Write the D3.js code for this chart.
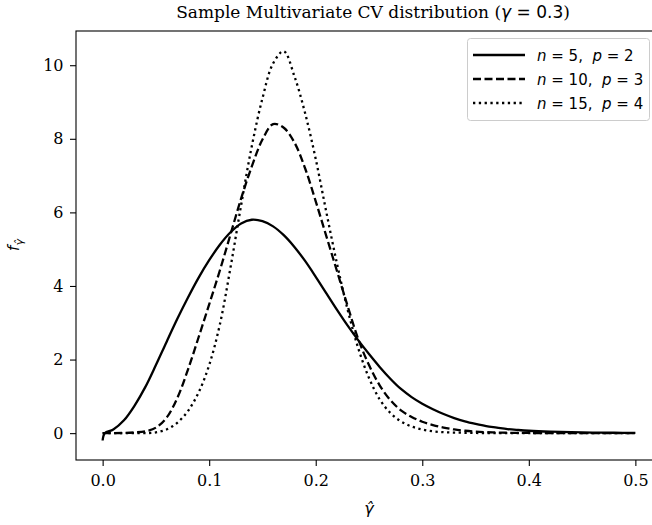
<!DOCTYPE html>
<html>
<head>
<meta charset="utf-8">
<script src="https://cdn.jsdelivr.net/npm/d3@7"></script>
<style>
  body { margin: 0; background: #fff; }
  svg { display: block; overflow: hidden; }
  .legend-text { white-space: pre; }
</style>
</head>
<body>
<div id="chart"></div>
<script>
// values
var gammaHat = [0, 0.002, 0.01, 0.02, 0.03, 0.04, 0.05, 0.06, 0.07, 0.08, 0.09,
  0.10, 0.11, 0.12, 0.13, 0.14, 0.15, 0.16, 0.17, 0.18, 0.19,
  0.20, 0.21, 0.22, 0.23, 0.24, 0.25, 0.26, 0.27, 0.28, 0.29,
  0.30, 0.31, 0.32, 0.33, 0.34, 0.35, 0.36, 0.37, 0.38, 0.39,
  0.40, 0.42, 0.44, 0.46, 0.48, 0.50];

var densN5 = [-0.2, 0.0, 0.1, 0.35, 0.75, 1.25, 1.85, 2.48, 3.1, 3.68, 4.22,
  4.7, 5.12, 5.46, 5.7, 5.8, 5.76, 5.62, 5.38, 5.06, 4.68,
  4.25, 3.8, 3.35, 2.92, 2.52, 2.15, 1.8, 1.48, 1.2, 0.98,
  0.8, 0.65, 0.52, 0.41, 0.32, 0.25, 0.19, 0.15, 0.11, 0.085,
  0.065, 0.04, 0.025, 0.015, 0.01, 0.005];

var densN10 = [0, 0, 0, 0.005, 0.02, 0.05, 0.15, 0.42, 0.95, 1.72, 2.6,
  3.5, 4.42, 5.4, 6.38, 7.25, 7.98, 8.4, 8.3, 7.9, 7.2,
  6.3, 5.35, 4.4, 3.45, 2.55, 1.85, 1.3, 0.9, 0.62, 0.44,
  0.31, 0.22, 0.15, 0.1, 0.065, 0.04, 0.025, 0.018, 0.01, 0.007,
  0.005, 0.002, 0, 0, 0, 0];

var densN15 = [0, 0, 0, 0, 0, 0, 0.02, 0.1, 0.28, 0.6, 1.1,
  1.85, 2.95, 4.5, 6.2, 7.8, 9.1, 10.05, 10.38, 9.7, 8.7,
  7.45, 6.0, 4.6, 3.35, 2.3, 1.5, 0.92, 0.55, 0.32, 0.18,
  0.1, 0.05, 0.025, 0.015, 0.01, 0.005, 0, 0, 0, 0,
  0, 0, 0, 0, 0, 0];

var seriesLabels = [["5", "2"], ["10", "3"], ["15", "4"]];
var xTicks = [0, 0.1, 0.2, 0.3, 0.4, 0.5];
var yTicks = [0, 2, 4, 6, 8, 10];

var svgWidth = 652;
var svgHeight = 525;
var margin = { top: 31, left: 76 };
var width = 586;   // right spine falls just outside the picture
var height = 429;

var svg = d3.select("#chart")
  .append("svg")
  .attr("width", svgWidth)
  .attr("height", svgHeight);

var chartGroup = svg.append("g")
  .attr("transform", `translate(${margin.left}, ${margin.top})`);

var xScale = d3.scaleLinear().domain([-0.025, 0.525]).range([0, width]);
var yScale = d3.scaleLinear().domain([-0.73, 10.93]).range([height, 0]);

// axes
var bottomAxis = d3.axisBottom(xScale).tickValues(xTicks).tickFormat(d3.format(".1f"))
  .tickSizeInner(6).tickSizeOuter(0).tickPadding(9);
var leftAxis = d3.axisLeft(yScale).tickValues(yTicks).tickFormat(d3.format("d"))
  .tickSizeInner(6).tickSizeOuter(0).tickPadding(6.5);

var gx = chartGroup.append("g")
  .attr("transform", `translate(0, ${height})`)
  .call(bottomAxis);
var gy = chartGroup.append("g").call(leftAxis);

[gx, gy].forEach(function(g) {
  g.select(".domain").remove();
  g.selectAll("line").attr("stroke", "#000").attr("stroke-width", 1.1);
  g.selectAll("text")
    .attr("font-family", "DejaVu Serif")
    .attr("font-size", "16px")
    .attr("fill", "#000");
});

// spines
chartGroup.append("rect")
  .attr("x", 0).attr("y", 0)
  .attr("width", width).attr("height", height)
  .attr("fill", "none")
  .attr("stroke", "#000")
  .attr("stroke-width", 1.1);

// curves
var series = [
  { values: densN5, dash: null },
  { values: densN10, dash: "8,3.5" },
  { values: densN15, dash: "2.3,3.5" }
];

var line = d3.line()
  .x(function(d) { return xScale(d[0]); })
  .y(function(d) { return yScale(d[1]); })
  .curve(d3.curveCatmullRom.alpha(0.5));

series.forEach(function(s) {
  chartGroup.append("path")
    .datum(gammaHat.map(function(g, i) { return [g, s.values[i]]; }))
    .attr("d", line)
    .attr("fill", "none")
    .attr("stroke", "#000")
    .attr("stroke-width", 2.3)
    .attr("stroke-dasharray", s.dash);
});

// title
var title = svg.append("text")
  .attr("x", 373)
  .attr("y", 18)
  .attr("text-anchor", "middle")
  .attr("font-family", "DejaVu Serif")
  .attr("font-size", "17px")
  .attr("fill", "#000");
title.append("tspan").text("Sample Multivariate CV distribution (");
title.append("tspan").attr("font-family", "DejaVu Sans").attr("font-style", "italic").text("γ");
title.append("tspan").attr("font-family", "DejaVu Sans").text(" = 0.3");
title.append("tspan").text(")");

// axis labels
svg.append("text")
  .attr("x", margin.left + width / 2)
  .attr("y", 514)
  .attr("text-anchor", "middle")
  .attr("font-family", "DejaVu Sans")
  .attr("font-style", "italic")
  .attr("font-size", "16px")
  .text("γ\u0302");

var yLabel = svg.append("text")
  .attr("transform", "translate(19, 245) rotate(-90)")
  .attr("text-anchor", "middle")
  .attr("font-family", "DejaVu Sans")
  .attr("font-style", "italic")
  .attr("font-size", "15px");
yLabel.append("tspan").text("f");
yLabel.append("tspan").attr("dy", 4).attr("font-size", "11px").text("γ\u0302");

// legend
var legend = svg.append("g");
legend.append("rect")
  .attr("x", 467.5).attr("y", 38.5)
  .attr("width", 182).attr("height", 82)
  .attr("rx", 3)
  .attr("fill", "#fff")
  .attr("fill-opacity", 0.8)
  .attr("stroke", "#cccccc")
  .attr("stroke-width", 1);

series.forEach(function(s, i) {
  var cy = 55 + i * 24;
  legend.append("line")
    .attr("x1", 473).attr("x2", 525)
    .attr("y1", cy).attr("y2", cy)
    .attr("stroke", "#000")
    .attr("stroke-width", 2.3)
    .attr("stroke-dasharray", s.dash);
  var t = legend.append("text")
    .attr("class", "legend-text")
    .attr("x", 537)
    .attr("y", cy + 5.5)
    .attr("font-family", "DejaVu Sans")
    .attr("font-size", "15px")
    .attr("fill", "#000");
  t.append("tspan").attr("font-style", "italic").text("n");
  t.append("tspan").text(" = " + seriesLabels[i][0] + ",  ");
  t.append("tspan").attr("font-style", "italic").text("p");
  t.append("tspan").text(" = " + seriesLabels[i][1]);
});
</script>
</body>
</html>
